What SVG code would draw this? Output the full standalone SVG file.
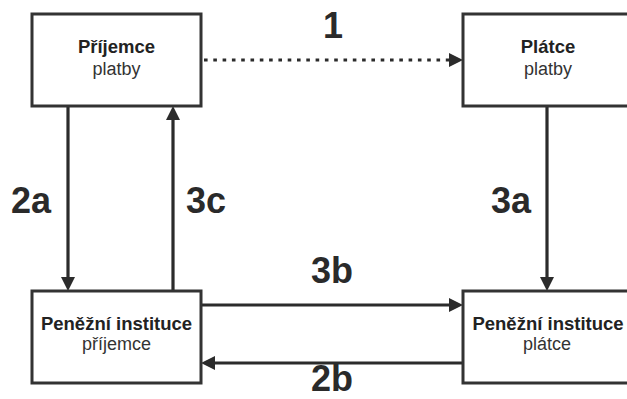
<svg xmlns="http://www.w3.org/2000/svg" width="627" height="399" viewBox="0 0 627 399">
<style>
.box{fill:#fff;stroke:#333;stroke-width:3}
.b{font-family:"Liberation Sans",Arial,sans-serif;font-weight:bold;font-size:18.5px;fill:#222;text-anchor:middle}
.r{font-family:"Liberation Sans",Arial,sans-serif;font-size:18px;fill:#333;text-anchor:middle}
.lbl{font-family:"Liberation Sans",Arial,sans-serif;font-weight:bold;font-size:36px;fill:#2a2a2a}
.ln{stroke:#2b2b2b;stroke-width:3.2;fill:none}
.ah{fill:#2b2b2b}
</style>
<rect width="627" height="399" fill="#fff"/>
<g id="connectors">
  <line class="ln" x1="204" y1="60" x2="450" y2="60" stroke-width="3.6" stroke-dasharray="3.6 5.7"/>
  <polygon class="ah" points="463,60 449,53 449,67"/>
  <line class="ln" x1="68" y1="106" x2="68" y2="279"/>
  <polygon class="ah" points="68,291 61,277 75,277"/>
  <line class="ln" x1="173" y1="291" x2="173" y2="118"/>
  <polygon class="ah" points="173,106 166,120 180,120"/>
  <line class="ln" x1="547" y1="106" x2="547" y2="279"/>
  <polygon class="ah" points="547,291 540,277 554,277"/>
  <line class="ln" x1="201" y1="305" x2="451" y2="305"/>
  <polygon class="ah" points="463,305 449,298 449,312"/>
  <line class="ln" x1="463" y1="363" x2="213" y2="363"/>
  <polygon class="ah" points="201,363 215,356 215,370"/>
  <text class="lbl" x="323" y="38">1</text>
  <text class="lbl" x="11" y="213">2a</text>
  <text class="lbl" x="186" y="213">3c</text>
  <text class="lbl" x="491" y="213">3a</text>
  <text class="lbl" x="311" y="283">3b</text>
  <text class="lbl" x="311" y="391">2b</text>
</g>
<g id="prijemce">
  <rect class="box" x="32" y="14" width="169" height="92"/>
  <text class="b" x="116.5" y="53">Příjemce</text>
  <text class="r" x="116.5" y="75">platby</text>
</g>
<g id="platce">
  <rect class="box" x="463" y="14" width="170" height="92"/>
  <text class="b" x="548" y="53">Plátce</text>
  <text class="r" x="548" y="75">platby</text>
</g>
<g id="instituce-prijemce">
  <rect class="box" x="32" y="291" width="169" height="92"/>
  <text class="b" x="116.5" y="330">Peněžní instituce</text>
  <text class="r" x="116.5" y="350">příjemce</text>
</g>
<g id="instituce-platce">
  <rect class="box" x="463" y="291" width="170" height="92"/>
  <text class="b" x="548" y="330">Peněžní instituce</text>
  <text class="r" x="547" y="350">plátce</text>
</g>
</svg>
